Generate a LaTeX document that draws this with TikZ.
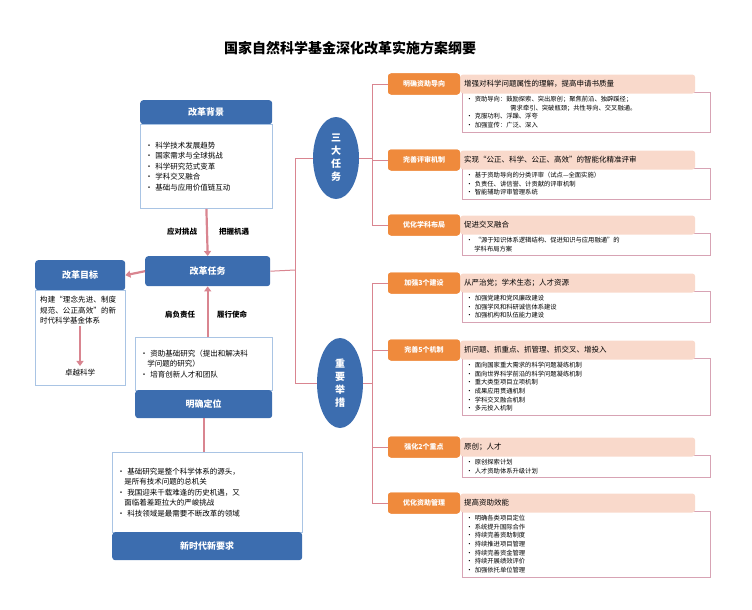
\documentclass[tikz,border=0pt]{standalone}
\usepackage{fontspec}
\setmainfont{Noto Sans CJK SC}
\XeTeXlinebreaklocale "zh"
\XeTeXlinebreakskip=0pt plus 1pt
\usetikzlibrary{arrows.meta,shapes.geometric}
\definecolor{bl}{HTML}{3C6DAF}
\definecolor{lbl}{HTML}{A9C4E4}
\definecolor{org}{HTML}{EF8A3C}
\definecolor{pch}{HTML}{F9D9CB}
\definecolor{pk}{HTML}{D7A3B4}
\definecolor{ar}{HTML}{D98590}
\begin{document}
\begin{tikzpicture}[x=1pt,y=-1pt,
 hd/.style={fill=bl,rounded corners=3pt,text=white,font=\fontsize{9}{10}\selectfont\bfseries,minimum height=28pt,inner sep=2pt},
 bd/.style={draw=lbl,line width=0.8pt,fill=white,font=\fontsize{7.5}{10.5}\selectfont,align=left,inner sep=4pt},
 og/.style={fill=org,rounded corners=3pt,text=white,font=\fontsize{7}{8}\selectfont\bfseries,minimum width=72pt,minimum height=21pt,inner sep=1pt},
 ph/.style={fill=pch,rounded corners=3pt,font=\fontsize{7.5}{8}\selectfont,minimum width=235pt,minimum height=19pt,anchor=west,text width=227pt,align=left},
 pb/.style={draw=pk,line width=0.8pt,fill=white,font=\fontsize{6.3}{8.6}\selectfont,anchor=north west,text width=240pt,align=left,inner sep=4pt},
 el/.style={fill=bl,ellipse,text=white,font=\fontsize{10}{13}\selectfont\bfseries,align=center},
 arw/.style={draw=ar,line width=2.2pt,-{Triangle[length=5pt,width=7pt]}},
 ln/.style={draw=ar,line width=1pt},
 lab/.style={font=\fontsize{7.5}{8}\selectfont\bfseries}]
\useasboundingbox (0,0) rectangle (752,610);
\node[font=\fontsize{14}{16}\selectfont\bfseries] (t) at (350,48) {国家自然科学基金深化改革实施方案纲要};
% left column
\node[hd,minimum width=132pt,minimum height=24pt,anchor=north west] (bj) at (140,100) {改革背景};
\node[bd,minimum width=132pt,minimum height=84pt,anchor=north west,text width=122pt] (bjb) at (140,124) {• 科学技术发展趋势\\• 国家需求与全球挑战\\• 科学研究范式变革\\• 学科交叉融合\\• 基础与应用价值链互动};
\node[hd,minimum width=125pt,minimum height=30pt,anchor=north west] (rw) at (145,256) {改革任务};
\draw[arw] (bjb.south) -- (rw.north);
\node[lab] (l1) at (182,232) {应对挑战};
\node[lab] (l2) at (234,232) {把握机遇};
\node[hd,minimum width=90pt,minimum height=30pt,anchor=north west] (mb) at (35,260) {改革目标};
\node[bd,minimum width=90pt,minimum height=95pt,anchor=north west,text width=80pt] (mbb) at (35,290) {};
\node[font=\fontsize{7.5}{10.5}\selectfont,text width=78pt,align=left,anchor=north west,inner sep=0pt] (mbt) at (40,296) {构建“理念先进、制度规范、公正高效”的新时代科学基金体系};
\node[font=\fontsize{7.5}{8}\selectfont] (zy) at (80,373) {卓越科学};
\draw[arw,line width=1.8pt] ([yshift=-2pt]mbt.south -| zy) -- (zy.north);
\draw[arw] (rw.west) -- (mb.east);
\node[bd,minimum width=137pt,minimum height=53pt,anchor=north west,text width=127pt] (dwb) at (135,337) {• 资助基础研究（提出和解决科\\\hspace*{7pt}学问题的研究）\\• 培育创新人才和团队};
\node[hd,minimum width=137pt,minimum height=28pt,anchor=north west] (dw) at (135,390) {明确定位};
\draw[arw] (dwb.north -| rw) -- (rw.south);
\node[lab] (l3) at (180,315) {肩负责任};
\node[lab] (l4) at (232,315) {履行使命};
\node[bd,minimum width=190pt,minimum height=80pt,anchor=north west,text width=180pt] (xsb) at (112,452) {• 基础研究是整个科学体系的源头，\\\hspace*{7pt}是所有技术问题的总机关\\• 我国迎来千载难逢的历史机遇，又\\\hspace*{7pt}面临着差距拉大的严峻挑战\\• 科技领域是最需要不断改革的领域};
\node[hd,minimum width=190pt,minimum height=28pt,anchor=north west] (xs) at (112,532) {新时代新要求};
\draw[ln,line width=2.2pt] (dw.south) -- (dw.south |- xsb.north);
% circles
\node[el,minimum width=46pt,minimum height=82pt] (c1) at (336,158) {三\\大\\任\\务};
\node[el,minimum width=46pt,minimum height=90pt] (c2) at (340,383) {重\\要\\举\\措};
\coordinate (j) at (295,270);
\draw[ln] (rw.east) -- (j);
\draw[ln] (c1.west -| j) -- (c2.west -| j);
\draw[ln] (c1.west -| j) -- (c1.west);
\draw[ln] (c2.west -| j) -- (c2.west);
% right groups
\def\grp#1#2#3#4#5{%
 \node[og] (o#1) at (424,#2) {#3};
 \node[pb] (b#1) at (462,#2+8) {#5};
 \node[ph] (h#1) at (460,#2) {#4};
 \node[og] at (424,#2) {#3};
}
\grp{1}{84}{明确资助导向}{增强对科学问题属性的理解，提高申请书质量}{• 资助导向：鼓励探索、突出原创；聚焦前沿、独辟蹊径；\\\hspace*{44pt}需求牵引、突破瓶颈；共性导向、交叉融通。\\• 克服功利、浮躁、浮夸\\• 加强宣传：广泛、深入}
\grp{2}{160}{完善评审机制}{实现“公正、科学、公正、高效”的智能化精准评审}{• 基于资助导向的分类评审（试点—全面实施）\\• 负责任、讲信誉、计贡献的评审机制\\• 智能辅助评审管理系统}
\grp{3}{225}{优化学科布局}{促进交叉融合}{• “源于知识体系逻辑结构、促进知识与应用融通”的\\\hspace*{8pt}学科布局方案}
\grp{4}{283}{加强3个建设}{从严治党；学术生态；人才资源}{• 加强党建和党风廉政建设\\• 加强学风和科研诚信体系建设\\• 加强机构和队伍能力建设}
\grp{5}{350}{完善5个机制}{抓问题、抓重点、抓管理、抓交叉、增投入}{• 面向国家重大需求的科学问题凝练机制\\• 面向世界科学前沿的科学问题凝练机制\\• 重大类型项目立项机制\\• 成果应用贯通机制\\• 学科交叉融合机制\\• 多元投入机制}
\grp{6}{447}{强化2个重点}{原创；人才}{• 原创探索计划\\• 人才资助体系升级计划}
\grp{7}{503}{优化资助管理}{提高资助效能}{• 明确各类项目定位\\• 系统提升国际合作\\• 持续完善资助制度\\• 持续推进项目管理\\• 持续完善资金管理\\• 持续开展绩效评价\\• 加强依托单位管理}
\coordinate (k1) at (372,84);
\coordinate (k2) at (372,283);
\draw[ln] (c1.east) -- (c1.east -| k1);
\draw[ln] (k1) -- (k1 |- o3.west);
\foreach \i in {1,2,3} \draw[ln] (o\i.west -| k1) -- (o\i.west);
\draw[ln] (c2.east) -- (c2.east -| k2);
\draw[ln] (k2) -- (k2 |- o7.west);
\foreach \i in {4,5,6,7} \draw[ln] (o\i.west -| k2) -- (o\i.west);
\end{tikzpicture}
\end{document}
